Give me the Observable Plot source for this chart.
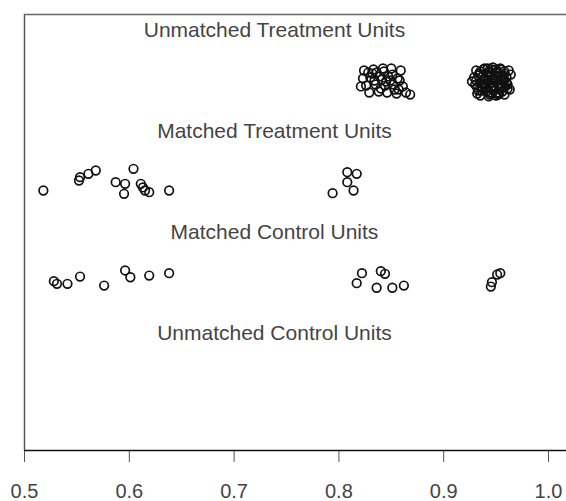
<!DOCTYPE html>
<html>
<head>
<meta charset="utf-8">
<script src="https://cdn.jsdelivr.net/npm/d3@7"></script>
<script src="https://cdn.jsdelivr.net/npm/@observablehq/plot@0.6"></script>
<style>
  html, body { margin: 0; padding: 0; background: #fff; }
  #chart svg { display: block; }
</style>
</head>
<body>
<div id="chart"></div>
<script>
// Group labels (rows from top to bottom) and their row positions
const groupLabels = ["Unmatched Treatment Units", "Matched Treatment Units", "Matched Control Units", "Unmatched Control Units"];
const groupRows = [3, 2, 1, 0];

// Unmatched treatment units: propensity score and vertical jitter
const unmatchedTreatedPS = [
  0.824, 0.833, 0.842, 0.850, 0.859, 0.823, 0.830, 0.839, 0.847, 0.856,
  0.826, 0.835, 0.844, 0.852, 0.861, 0.829, 0.838, 0.846, 0.855, 0.864,
  0.868, 0.832, 0.845, 0.857, 0.821,
  0.828, 0.836, 0.843, 0.851, 0.834, 0.841, 0.849, 0.858, 0.840, 0.853,
  0.931, 0.939, 0.947, 0.954, 0.962, 0.929, 0.937, 0.945, 0.952, 0.960,
  0.964, 0.930, 0.938, 0.946, 0.953, 0.961, 0.933, 0.941, 0.948, 0.956,
  0.963, 0.935, 0.943, 0.950, 0.958, 0.927, 0.934, 0.942, 0.949, 0.957,
  0.940, 0.948, 0.955, 0.944, 0.951, 0.936, 0.959, 0.946, 0.953, 0.932,
  0.935, 0.943, 0.951, 0.958, 0.939, 0.947, 0.955, 0.933, 0.941, 0.949,
  0.957, 0.937, 0.945, 0.953, 0.961, 0.931, 0.939, 0.947, 0.955, 0.944,
  0.952, 0.936, 0.960, 0.942, 0.950,
  0.938, 0.946, 0.954, 0.934, 0.942, 0.950, 0.958, 0.940, 0.948, 0.956,
  0.936, 0.944, 0.952, 0.960, 0.932, 0.940, 0.948, 0.956, 0.944, 0.952
];
const unmatchedTreatedJitter = [
  3.099, 3.109, 3.119, 3.119, 3.099, 3.020, 3.030, 3.040, 3.040, 3.020,
  2.950, 2.960, 2.950, 2.960, 2.941, 2.881, 2.891, 2.881, 2.871, 2.881,
  2.861, 3.069, 2.990, 2.911, 2.941,
  3.079, 3.079, 3.089, 3.059, 3.000, 3.010, 3.000, 3.000, 2.921, 2.911,
  3.099, 3.119, 3.129, 3.119, 3.099, 3.030, 3.040, 3.050, 3.040, 3.030,
  3.059, 2.960, 2.970, 2.980, 2.970, 2.960, 2.901, 2.891, 2.901, 2.891,
  2.911, 2.851, 2.842, 2.851, 2.861, 2.990, 3.069, 3.000, 3.010, 3.000,
  2.931, 2.941, 2.931, 3.079, 3.079, 2.941, 2.941, 2.871, 2.871, 2.871,
  3.089, 3.089, 3.089, 3.089, 3.010, 3.010, 3.010, 3.050, 3.050, 3.050,
  3.050, 2.920, 2.920, 2.920, 2.920, 3.000, 2.950, 2.950, 2.950, 2.861,
  2.861, 2.901, 2.980, 3.119, 3.109,
  3.109, 3.109, 3.109, 3.069, 3.069, 3.069, 3.069, 3.020, 3.020, 3.020,
  2.970, 2.970, 2.970, 2.970, 2.931, 2.931, 2.931, 2.931, 2.881, 2.881
];

// Matched treatment units
const matchedTreatedPS = [
  0.518, 0.553, 0.552, 0.561, 0.568, 0.604, 0.587, 0.596, 0.595, 0.611,
  0.615, 0.619, 0.613, 0.638, 0.794, 0.808, 0.817, 0.808, 0.814
];
const matchedTreatedJitter = [
  1.911, 2.043, 2.010, 2.076, 2.109, 2.126, 1.993, 1.977, 1.878, 1.977,
  1.911, 1.894, 1.941, 1.911, 1.884, 2.092, 2.076, 1.993, 1.911
];

// Matched control units
const matchedControlPS = [
  0.528, 0.531, 0.541, 0.553, 0.576, 0.596, 0.601, 0.619, 0.638,
  0.822, 0.817, 0.836, 0.840, 0.844, 0.851, 0.862,
  0.946, 0.945, 0.951, 0.954
];
const matchedControlJitter = [
  1.013, 0.987, 0.987, 1.059, 0.970, 1.119, 1.052, 1.069, 1.092,
  1.092, 0.993, 0.948, 1.112, 1.086, 0.948, 0.970,
  1.003, 0.960, 1.079, 1.092
];

// Axis ticks
const xTicks = [0.5, 0.6, 0.7, 0.8, 0.9, 1.0];

const points = [
  ...unmatchedTreatedPS.map((ps, i) => ({ps, jit: unmatchedTreatedJitter[i]})),
  ...matchedTreatedPS.map((ps, i) => ({ps, jit: matchedTreatedJitter[i]})),
  ...matchedControlPS.map((ps, i) => ({ps, jit: matchedControlJitter[i]}))
];
const labels = groupLabels.map((t, i) => ({t, y: groupRows[i] + 0.5}));

const yMin = -0.6634, yMax = 3.6535;
const xMin = 0.5, xMax = 1.01718;
const labelX = 0.7385;

const chart = Plot.plot({
  width: 566,
  height: 501,
  marginLeft: 24,
  marginRight: 0,
  marginTop: 14,
  marginBottom: 51,
  style: {fontFamily: "'Liberation Sans', Arial, sans-serif", background: "#fff"},
  x: {domain: [xMin, xMax], axis: null},
  y: {domain: [yMin, yMax], axis: null},
  marks: [
    Plot.axisX({ticks: xTicks, tickFormat: d3.format(".1f"), tickSize: 12, tickPadding: 21,
      fontSize: 20, stroke: "#555", color: "#444", label: null}),
    Plot.ruleX([xMin], {y1: yMin, y2: yMax, stroke: "#555", strokeWidth: 1.5}),
    Plot.ruleY([yMax], {stroke: "#666", strokeWidth: 1.5}),
    Plot.ruleY([yMin], {stroke: "#111", strokeWidth: 1.5}),
    Plot.text(labels, {x: () => labelX, y: "y", text: "t", fontSize: 21, fill: "#444"}),
    Plot.dot(points, {x: "ps", y: "jit", r: 4.3, stroke: "#111", strokeWidth: 1.7, fill: "none"})
  ]
});
document.getElementById("chart").append(chart);
</script>
</body>
</html>
